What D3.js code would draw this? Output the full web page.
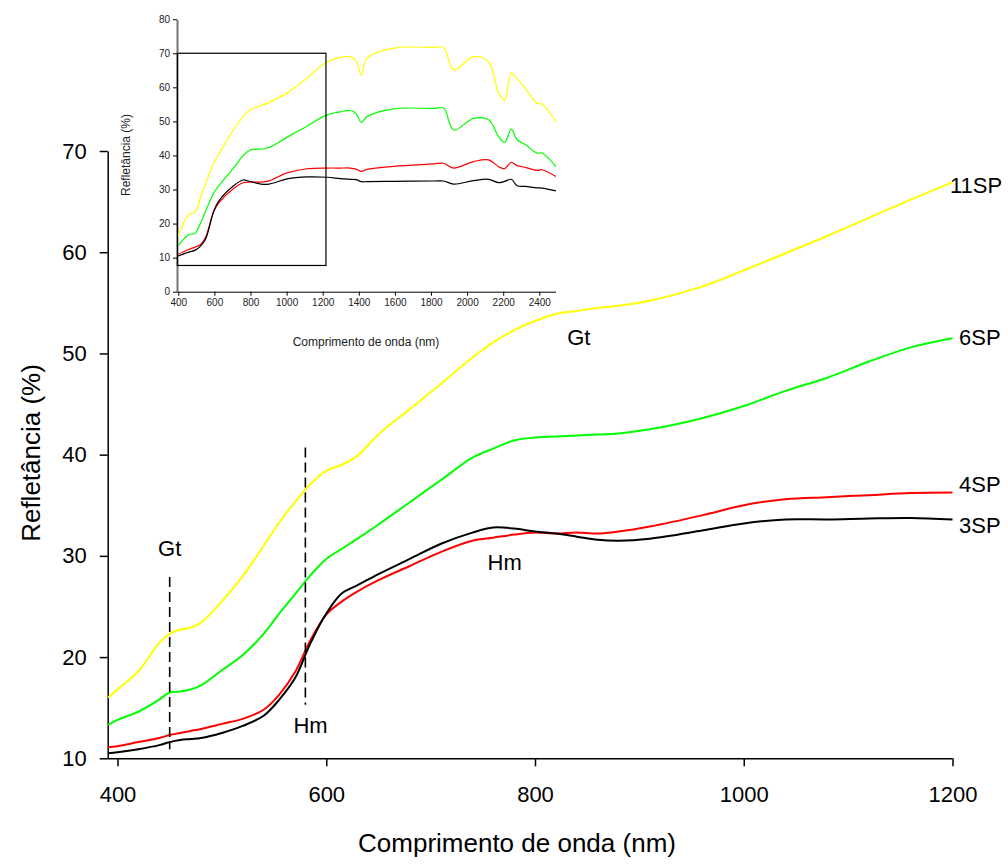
<!DOCTYPE html>
<html>
<head>
<meta charset="utf-8">
<script src="https://cdn.jsdelivr.net/npm/d3@7"></script>
<style>
  body { margin: 0; background: #fff; }
  svg { display: block; font-family: "Liberation Sans", Arial, sans-serif; }
</style>
</head>
<body>
<svg id="chart" width="1008" height="864"></svg>
<script>
// main chart (400-1200 nm)
const wl = [391, 400, 420, 440, 450, 460, 470, 480, 500, 520, 540, 555, 570, 585, 600, 615, 630, 650, 680, 710, 740, 760, 780, 800, 820, 840, 860, 880, 910, 960, 1000, 1040, 1080, 1120, 1160, 1200];
const sp11 = [16.0, 16.8, 18.6, 21.4, 22.3, 22.7, 22.9, 23.4, 25.5, 28.0, 31.0, 33.3, 35.3, 37.1, 38.4, 39.0, 39.9, 42.0, 44.5, 47.0, 49.6, 51.1, 52.3, 53.2, 53.9, 54.2, 54.5, 54.7, 55.2, 56.6, 58.2, 59.9, 61.6, 63.4, 65.2, 66.9];
const sp6 = [13.3, 13.8, 14.6, 15.8, 16.5, 16.6, 16.8, 17.2, 18.7, 20.2, 22.3, 24.3, 26.2, 28.1, 29.7, 30.7, 31.7, 33.1, 35.3, 37.5, 39.7, 40.6, 41.4, 41.7, 41.8, 41.9, 42.0, 42.1, 42.5, 43.6, 44.8, 46.3, 47.6, 49.2, 50.6, 51.5];
const sp4 = [11.1, 11.2, 11.6, 12.0, 12.3, 12.5, 12.7, 12.9, 13.4, 13.9, 14.8, 16.3, 18.5, 21.7, 24.2, 25.5, 26.5, 27.6, 29.0, 30.4, 31.5, 31.8, 32.1, 32.3, 32.2, 32.3, 32.2, 32.4, 32.9, 34.0, 35.0, 35.6, 35.8, 36.0, 36.2, 36.25];
const sp3 = [10.5, 10.6, 10.9, 11.3, 11.6, 11.8, 11.9, 12.0, 12.5, 13.2, 14.2, 15.8, 17.9, 21.4, 24.3, 26.3, 27.1, 28.2, 29.7, 31.2, 32.3, 32.8, 32.7, 32.4, 32.2, 31.9, 31.6, 31.5, 31.7, 32.5, 33.2, 33.6, 33.6, 33.7, 33.75, 33.6];

// inset (full spectrum)
const wlInset = [396, 457, 494, 522, 550, 596, 623, 706, 760, 799, 891, 1002, 1113, 1224, 1297, 1353, 1385, 1414, 1445, 1593, 1815, 1870, 1925, 2036, 2119, 2175, 2208, 2245, 2277, 2322, 2387, 2415, 2492];
const in11 = [16.0, 22.6, 23.5, 27.5, 31.5, 37.7, 40.2, 47.5, 51.5, 53.4, 55.3, 58.3, 62.7, 67.5, 68.8, 69.0, 67.8, 63.6, 68.5, 71.5, 71.7, 71.7, 65.1, 69.0, 67.5, 58.3, 56.3, 64.1, 62.5, 59.7, 55.3, 55.1, 49.9];
const in6 = [13.3, 16.7, 17.2, 20.0, 23.5, 28.9, 31.0, 36.3, 40.0, 41.6, 42.1, 45.3, 48.6, 51.9, 52.8, 53.2, 52.3, 49.7, 51.4, 53.7, 53.8, 53.9, 47.5, 50.9, 50.5, 45.5, 43.8, 47.7, 44.6, 43.2, 40.7, 40.7, 36.7];
const in4 = [10.9, 12.4, 13.1, 13.8, 15.8, 23.5, 26.0, 30.3, 32.0, 32.2, 32.4, 34.9, 36.1, 36.3, 36.3, 36.3, 36.0, 35.3, 35.9, 36.8, 37.5, 37.7, 36.3, 38.2, 38.7, 36.7, 36.1, 38.0, 37.0, 36.5, 35.6, 35.8, 33.8];
const in3 = [10.4, 11.6, 12.2, 13.3, 15.3, 23.6, 26.5, 31.1, 32.8, 32.3, 31.5, 33.1, 33.7, 33.6, 33.2, 33.0, 32.9, 32.3, 32.3, 32.4, 32.5, 32.5, 31.6, 32.6, 33.0, 32.0, 32.4, 33.0, 31.1, 30.9, 30.5, 30.4, 29.6];

const seriesNames = ['11SP', '6SP', '4SP', '3SP'];
const seriesColors = ['#ffff00', '#00ff00', '#ff0000', '#000000'];

const xTicks = [400, 600, 800, 1000, 1200];
const yTicks = [10, 20, 30, 40, 50, 60, 70];
const xTicksInset = [400, 600, 800, 1000, 1200, 1400, 1600, 1800, 2000, 2200, 2400];
const yTicksInset = [0, 10, 20, 30, 40, 50, 60, 70, 80];

// band markers: Gt = goethite, Hm = hematite
const markers = [
  {wl: 450, from: 10.9, to: 27.9},
  {wl: 580, from: 15.3, to: 40.7}
];
const notes = [
  {text: 'Gt', wl: 450, v: 30.0},
  {text: 'Hm', wl: 585, v: 12.5},
  {text: 'Hm', wl: 771, v: 28.6},
  {text: 'Gt', wl: 842, v: 50.8}
];

const svg = d3.select('#chart');

const x = d3.scaleLinear().domain([400, 1200]).range([117.5, 952.5]);
const y = d3.scaleLinear().domain([10, 70]).range([758.3, 151]);

const mainSeries = [sp11, sp6, sp4, sp3];

// axes
const xAxis = svg.append('g')
  .attr('transform', 'translate(0,758.3)')
  .call(d3.axisBottom(x).tickValues(xTicks).tickFormat(d3.format('d'))
    .tickSize(8).tickPadding(20).tickSizeOuter(0));
xAxis.select('.domain').attr('d', `M107.7,0.5H952.5`);

const yAxis = svg.append('g')
  .attr('transform', 'translate(107.7,0)')
  .call(d3.axisLeft(y).tickValues(yTicks).tickFormat(d3.format('d'))
    .tickSize(8).tickPadding(13).tickSizeOuter(0));

[xAxis, yAxis].forEach(g => {
  g.selectAll('path, line').attr('stroke', '#000').attr('stroke-width', 1.5);
  g.selectAll('text').attr('font-size', 22).attr('fill', '#000')
    .attr('font-family', '"Liberation Sans", Arial, sans-serif');
});

// clip lines at the axes
svg.append('defs').append('clipPath').attr('id', 'mainClip')
  .append('rect').attr('x', 107.7).attr('y', 100).attr('width', 846).attr('height', 660);

const line = d3.line()
  .x((d, i) => x(wl[i]))
  .y(d => y(d))
  .curve(d3.curveCatmullRom.alpha(0.5));

svg.append('g').attr('clip-path', 'url(#mainClip)')
  .selectAll('path')
  .data(mainSeries)
  .join('path')
  .attr('d', line)
  .attr('fill', 'none')
  .attr('stroke', (d, i) => seriesColors[i])
  .attr('stroke-width', 2);

// series labels at line ends
svg.selectAll('.slabel')
  .data(mainSeries)
  .join('text')
  .attr('class', 'slabel')
  .attr('x', (d, i) => i === 0 ? 950 : 959)
  .attr('y', (d, i) => [193, 345, 492, 533][i])
  .attr('font-size', 22)
  .text((d, i) => seriesNames[i]);

// dashed markers
svg.selectAll('.marker')
  .data(markers)
  .join('line')
  .attr('x1', d => x(d.wl)).attr('x2', d => x(d.wl))
  .attr('y1', d => y(d.to)).attr('y2', d => y(d.from))
  .attr('stroke', '#000')
  .attr('stroke-width', 1.6)
  .attr('stroke-dasharray', '10,5');

svg.selectAll('.note')
  .data(notes)
  .join('text')
  .attr('x', d => x(d.wl))
  .attr('y', d => y(d.v))
  .attr('text-anchor', 'middle')
  .attr('font-size', 22)
  .text(d => d.text);

// axis titles
svg.append('text')
  .attr('x', 517).attr('y', 852)
  .attr('text-anchor', 'middle')
  .attr('font-size', 26)
  .text('Comprimento de onda (nm)');

svg.append('text')
  .attr('transform', 'translate(40,453) rotate(-90)')
  .attr('text-anchor', 'middle')
  .attr('font-size', 26)
  .text('Refletância (%)');

// ---- inset ----
const xi = d3.scaleLinear().domain([400, 2400]).range([178.3, 539.3]);
const yi = d3.scaleLinear().domain([0, 80]).range([291.7, 19.2]);
const insetSeries = [in11, in6, in4, in3];

const xiAxis = svg.append('g')
  .attr('transform', 'translate(0,291.7)')
  .call(d3.axisBottom(xi).tickValues(xTicksInset).tickFormat(d3.format('d'))
    .tickSize(4).tickPadding(3).tickSizeOuter(0));
xiAxis.select('.domain').attr('d', `M177,0.5H556`);

const yiAxis = svg.append('g')
  .attr('transform', 'translate(177,0)')
  .call(d3.axisLeft(yi).tickValues(yTicksInset).tickSize(4).tickPadding(3).tickSizeOuter(0));
yiAxis.select('.domain').attr('stroke', '#777').attr('stroke-width', 2);

[xiAxis, yiAxis].forEach(g => {
  g.selectAll('line').attr('stroke', '#000');
  g.selectAll('text').attr('font-size', 10).attr('fill', '#222')
    .attr('font-family', '"Liberation Sans", Arial, sans-serif');
});
xiAxis.select('.domain').attr('stroke', '#000');

const lineInset = d3.line()
  .x((d, i) => xi(wlInset[i]))
  .y(d => yi(d))
  .curve(d3.curveCatmullRom.alpha(0.5));

svg.append('g')
  .selectAll('path')
  .data(insetSeries)
  .join('path')
  .attr('d', lineInset)
  .attr('fill', 'none')
  .attr('stroke', (d, i) => seriesColors[i])
  .attr('stroke-width', 1.2);

// zoom window box (main chart extent)
svg.append('rect')
  .attr('x', xi(395)).attr('y', yi(70))
  .attr('width', xi(1218) - xi(395))
  .attr('height', yi(7.7) - yi(70))
  .attr('fill', 'none')
  .attr('stroke', '#000')
  .attr('stroke-width', 1.2);

svg.append('text')
  .attr('x', 366).attr('y', 346)
  .attr('text-anchor', 'middle')
  .attr('font-size', 12)
  .attr('fill', '#222')
  .text('Comprimento de onda (nm)');

svg.append('text')
  .attr('transform', 'translate(130,155) rotate(-90)')
  .attr('text-anchor', 'middle')
  .attr('font-size', 12)
  .attr('fill', '#222')
  .text('Refletância (%)');
</script>
</body>
</html>
